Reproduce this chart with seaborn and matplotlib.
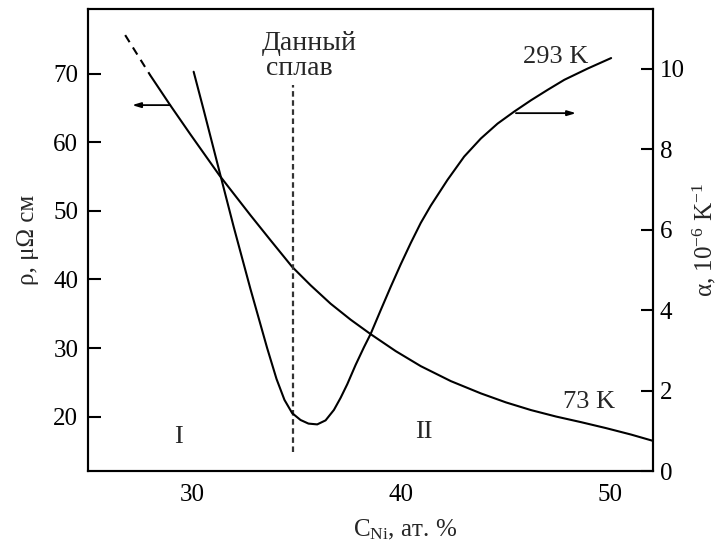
import matplotlib
matplotlib.use("Agg")
import matplotlib.pyplot as plt
import seaborn as sns

# Resistivity at 73 K (left axis), x in at.% Ni
rho_x_ext = [26.78, 27.98]
rho_ext = [75.6, 69.75]
rho_x = [27.98, 28.94, 29.90, 31.29, 32.78, 33.74, 34.78, 35.66, 36.62, 37.58,
         38.54, 39.74, 40.94, 42.38, 43.82, 45.02, 46.22, 47.42, 48.62, 49.82,
         51.02, 52.06]
rho = [69.75, 65.38, 61.16, 55.19, 49.37, 45.73, 41.84, 39.17, 36.48, 34.15,
       32.04, 29.57, 27.38, 25.2, 23.41, 22.1, 20.98, 20.04, 19.22, 18.35,
       17.41, 16.5]

# Thermal expansion coefficient at 293 K (right axis)
alpha_x = [30.06, 30.54, 31.34, 31.98, 32.78, 33.58, 34.03, 34.41, 34.78, 35.18,
           35.56, 35.98, 36.38, 36.78, 37.10, 37.42, 37.82, 38.22, 38.54, 39.02,
           39.5, 39.98, 40.46, 40.94, 41.42, 42.22, 43.02, 43.82, 44.62, 45.42,
           46.22, 47.02, 47.82, 48.94, 50.06]
alpha = [9.93, 8.98, 7.36, 6.07, 4.53, 3.06, 2.29, 1.77, 1.44, 1.27,
         1.18, 1.16, 1.26, 1.52, 1.82, 2.16, 2.64, 3.08, 3.41, 4.0,
         4.58, 5.14, 5.67, 6.17, 6.60, 7.24, 7.82, 8.27, 8.64, 8.94,
         9.22, 9.48, 9.73, 10.01, 10.27]

alloy_x = 34.8
x_ticks = [30, 40, 50]
rho_ticks = [20, 30, 40, 50, 60, 70]
alpha_ticks = [0, 2, 4, 6, 8, 10]

sns.set_style("white")
plt.rcParams["font.family"] = ["Liberation Serif", "DejaVu Serif"]
plt.rcParams["mathtext.fontset"] = "custom"
plt.rcParams["mathtext.rm"] = "Liberation Serif"
plt.rcParams["mathtext.it"] = "Liberation Serif:italic"

fig = plt.figure(figsize=(7.18, 5.49), dpi=100)
ax = fig.add_axes([0.1226, 0.142, 0.7864, 0.8416])
ax2 = ax.twinx()
ax2.set_position(ax.get_position())

lw = 1.5
sns.lineplot(x=rho_x_ext, y=rho_ext, ax=ax, color="black", lw=lw, sort=False,
             linestyle=(0, (4, 3)))
sns.lineplot(x=rho_x, y=rho, ax=ax, color="black", lw=lw, sort=False)
sns.lineplot(x=alpha_x, y=alpha, ax=ax2, color="black", lw=lw, sort=False)

# composition of the studied alloy
ax.plot([alloy_x, alloy_x], [14.9, 68.3], color="#333333", lw=1.6,
        linestyle=(0, (2.5, 1.6)))

# arrows pointing to the relevant axes
arrow = dict(arrowstyle="-|>,head_length=0.5,head_width=0.15", color="black",
             lw=1.3, shrinkA=0, shrinkB=0)
ax.annotate("", xy=(27.11, 65.4), xytext=(28.94, 65.4), arrowprops=arrow)
ax2.annotate("", xy=(48.38, 8.9), xytext=(45.5, 8.9), arrowprops=arrow)

fs_txt = 19
ax.text(33.34, 73.4, "Данный", fontsize=20, ha="left", va="baseline")
ax.text(33.55, 69.75, "сплав", fontsize=20, ha="left", va="baseline")
ax2.text(45.82, 10.14, "293 K", fontsize=fs_txt, ha="left", va="baseline")
ax.text(47.74, 21.22, "73 K", fontsize=fs_txt, ha="left", va="baseline")
ax.text(29.32, 16.13, "I", fontsize=fs_txt, ha="center", va="baseline")
ax.text(41.1, 16.85, "II", fontsize=fs_txt, ha="center", va="baseline")

ax.set_xlim(25, 52.05)
ax.set_ylim(12.1, 79.4)
ax2.set_ylim(0, 11.49)
ax.set_xticks(x_ticks)
ax.set_yticks(rho_ticks)
ax2.set_yticks(alpha_ticks)

fs_tick = 18
ax.tick_params(axis="both", direction="in", length=9, width=1.5,
               labelsize=fs_tick, colors="black")
ax.tick_params(axis="x", pad=9)
ax.tick_params(axis="y", pad=7)
ax2.tick_params(axis="y", direction="in", length=9, width=1.5,
                labelsize=fs_tick, pad=5, colors="black")

for a in (ax, ax2):
    for s in a.spines.values():
        s.set_visible(True)
        s.set_color("black")
        s.set_linewidth(1.5)

ax.set_xlabel(r"C$_{\mathrm{Ni}}$, ат. %", fontsize=fs_tick)
ax.xaxis.set_label_coords(0.561, -0.102)
ax.set_ylabel("ρ, μΩ см", fontsize=fs_tick, labelpad=10)
ax2.set_ylabel(r"α, 10$^{-6}$ K$^{-1}$", fontsize=fs_tick, labelpad=4)

fig.savefig("out.png", dpi=100)
